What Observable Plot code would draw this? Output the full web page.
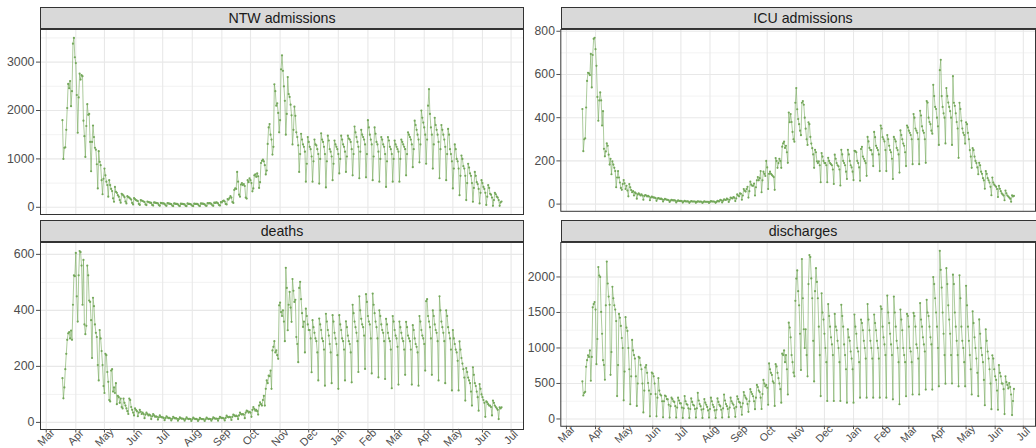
<!DOCTYPE html>
<html><head><meta charset="utf-8">
<script src="https://cdn.jsdelivr.net/npm/d3@7"></script>
<script src="https://cdn.jsdelivr.net/npm/@observablehq/plot@0.6"></script>
<style>
html,body{margin:0;padding:0;background:#fff;overflow:hidden;width:1036px;height:448px;}
#chart{position:relative;width:1036px;height:448px;overflow:hidden;font-family:"Liberation Sans",Arial,sans-serif;}
.strip{position:absolute;box-sizing:border-box;background:#d9d9d9;border:1px solid #333;color:#1a1a1a;font-size:14.2px;text-align:center;line-height:20px;height:22px;}
.panel{position:absolute;}
</style></head><body><div id="chart"></div>
<script>
// first day of all series (daily values)
const startDate = "2020-03-18";
const panelTitles = ["NTW admissions", "ICU admissions", "deaths", "discharges"];

const ntwAdmissions = [
1800,1000,1230,1240,1600,2050,2550,
2460,2610,2090,2400,3380,3500,3100,
2980,2320,1540,2270,2760,2640,2730,
2710,1790,1470,1040,1680,2130,1910,
1930,1350,745,1350,1690,1450,1230,
1190,890,390,1160,940,870,560,
270,590,800,660,530,460,220,
560,460,380,335,185,115,420,
320,300,250,220,150,95,280,
260,240,210,120,80,230,210,
200,180,160,90,60,190,170,
150,140,130,70,50,150,140,
130,120,110,60,45,120,110,
100,95,90,50,35,100,95,
90,85,80,45,30,90,85,
80,80,70,40,30,85,80,
75,70,65,35,25,80,75,
70,70,60,35,25,75,70,
70,65,60,30,25,80,70,
70,65,55,30,25,75,70,
70,70,60,35,25,80,75,
75,70,60,35,30,85,80,
85,80,70,40,30,95,90,
100,95,80,45,35,110,100,
130,140,120,70,60,170,160,
190,230,200,110,90,360,390,
380,730,530,260,220,470,500,
460,480,440,200,180,560,520,
600,560,500,330,390,660,680,
630,700,640,400,520,915,960,
985,950,870,680,760,1310,1650,
1720,1500,1400,1090,1250,2540,2400,
2100,2150,1950,1550,1800,2850,3140,
2820,2500,2200,1500,1930,2690,2340,
2280,2120,1900,1300,1600,2080,1890,
1550,1450,1280,730,1100,1520,1400,
1300,1250,1150,530,900,1450,1350,
1250,1200,1050,530,950,1400,1300,
1280,1200,1100,490,1000,1530,1400,
1350,1250,1100,410,950,1480,1380,
1200,1150,1050,560,900,1380,1300,
1250,1200,1100,700,1000,1480,1400,
1300,1250,1150,730,1050,1480,1420,
1400,1350,1200,660,1100,1670,1550,
1450,1350,1250,600,1150,1600,1500,
1450,1400,1300,620,1100,1800,1650,
1500,1400,1300,560,1050,1650,1520,
1350,1300,1150,530,1000,1450,1400,
1300,1250,1100,420,950,1450,1380,
1250,1200,1100,530,1000,1380,1300,
1250,1200,1150,530,1000,1400,1350,
1300,1250,1200,660,1100,1550,1500,
1450,1400,1300,830,1200,1790,1700,
1600,1500,1400,930,1300,2000,1850,
1750,1650,1500,900,1400,2100,2440,
1930,1650,1500,800,1300,1850,1700,
1600,1500,1350,600,1200,1700,1600,
1500,1400,1250,560,1100,1620,1500,
1200,1100,950,390,800,1300,1200,
1000,950,800,250,650,1070,1000,
850,800,650,150,500,900,820,
700,650,500,115,400,730,650,
520,480,380,80,300,560,500,
420,380,300,50,220,460,400,
280,260,200,30,150,300,270,
220,200,150,30,100,120
];

const icuAdmissions = [
440,245,300,305,447,570,608,
605,597,695,540,690,765,770,
717,640,496,386,480,517,480,
364,430,256,221,244,281,270,
229,183,210,138,198,183,168,
153,78,123,153,123,100,75,
66,93,111,96,70,85,63,
36,93,78,65,55,60,40,
55,50,25,45,50,45,40,
45,40,20,38,42,40,35,
38,35,18,30,35,32,30,
30,28,15,25,28,26,24,
25,22,12,20,24,22,20,
20,18,10,16,20,18,17,
18,16,8,14,17,15,14,
15,14,7,12,15,13,12,
13,12,6,11,14,12,12,
12,12,6,10,13,12,11,
12,11,5,10,13,11,11,
11,11,5,10,14,12,12,
12,11,6,10,15,13,13,
20,18,8,16,22,20,19,
25,22,10,20,30,28,26,
32,30,14,26,45,40,36,
50,48,20,40,70,62,58,
70,80,30,60,104,90,85,
85,95,40,78,110,125,110,
120,153,55,110,150,140,130,
200,170,70,140,150,140,135,
130,125,66,213,200,168,190,
210,200,168,266,281,289,260,
270,240,191,424,379,417,380,
334,300,289,469,537,439,394,
370,340,319,469,477,460,400,
349,300,274,379,370,311,280,
259,230,168,251,240,198,190,
198,180,101,236,220,200,190,
190,180,101,214,200,190,185,
180,160,93,229,210,190,180,
175,160,86,251,230,200,190,
180,150,116,251,230,200,180,
170,150,111,247,245,240,200,
190,170,108,255,265,220,210,
200,190,131,311,290,260,250,
250,230,176,334,310,270,260,
250,230,153,364,350,310,300,
290,250,153,320,300,270,250,
240,210,116,311,300,290,260,
250,230,146,341,320,300,280,
270,240,176,364,355,340,330,
320,300,185,417,400,350,340,
330,300,185,432,410,360,340,
330,300,191,477,470,400,380,
370,340,326,552,500,450,440,
400,360,274,620,668,500,450,
420,400,281,537,500,470,450,
430,400,274,592,469,455,420,
380,350,214,469,440,386,350,
330,320,280,379,370,330,300,
250,220,168,259,250,220,200,
190,170,138,191,180,150,140,
120,110,71,153,140,120,110,
100,80,41,123,100,90,85,
80,70,33,85,71,60,50,
45,40,18,63,50,40,35,
30,25,11,41,35,38
];

const deaths = [
158,86,125,190,245,295,318,
322,300,328,295,420,525,522,
605,450,360,525,612,608,560,
420,580,350,315,345,560,525,
435,430,365,230,445,415,350,
320,305,205,150,330,300,255,
205,130,105,245,240,180,145,
80,75,185,190,110,125,105,
140,65,95,90,70,85,55,
50,85,70,60,50,40,30,
85,80,55,45,35,25,50,
45,40,22,35,45,38,30,
35,30,15,28,35,30,25,
28,25,12,22,30,25,20,
22,20,10,18,25,20,18,
18,16,8,15,22,18,15,
16,14,7,13,20,16,14,
15,13,6,12,18,15,13,
14,12,6,12,18,14,12,
13,12,5,11,17,14,12,
13,11,5,10,16,13,12,
12,11,5,11,17,14,12,
13,12,6,12,18,15,13,
14,13,6,14,20,17,15,
16,14,7,16,24,20,18,
20,18,9,20,28,25,22,
24,22,12,25,35,30,28,
30,28,15,35,42,40,35,
38,35,20,45,55,48,42,
45,40,28,60,72,65,60,
80,95,60,120,150,140,167,
165,185,120,257,270,290,250,
257,240,227,418,428,394,380,
400,360,290,552,480,329,420,
466,410,359,512,470,430,438,
305,280,215,480,502,440,390,
341,360,250,406,380,350,330,
330,300,179,365,340,320,300,
290,250,150,371,350,330,300,
290,260,131,388,360,330,310,
280,250,140,383,360,320,300,
280,240,120,383,350,330,300,
290,260,150,361,340,310,290,
280,250,143,420,390,360,340,
320,290,180,450,400,370,350,
340,310,191,458,430,380,360,
350,300,175,460,420,390,360,
340,300,161,400,380,350,330,
320,290,155,370,350,320,300,
290,260,122,380,360,330,310,
300,270,135,360,340,320,300,
290,260,170,359,340,310,300,
290,260,135,347,330,300,280,
270,250,131,380,360,330,310,
300,280,185,433,440,380,360,
340,300,170,400,380,350,330,
320,290,150,450,400,360,340,
320,290,140,400,380,340,320,
300,260,114,330,300,280,260,
250,220,114,289,260,230,210,
190,160,78,194,180,160,150,
140,110,60,197,170,140,130,
110,90,42,137,120,100,90,
80,70,20,75,72,65,60,
60,55,25,78,70,60,55,
50,45,12,54,50,54
];

const discharges = [
529,331,368,382,736,828,897,
874,966,538,874,1572,1618,1646,
1540,772,1126,2140,2020,2000,1508,
1200,828,760,552,1600,2216,1908,
1724,1609,621,943,1862,1700,1600,
1540,1379,322,759,1480,1425,1310,
1140,1000,262,667,1434,1287,1240,
1000,700,207,600,1113,966,900,
850,600,184,500,874,860,759,
700,500,92,400,726,759,650,
506,400,37,350,653,640,600,
500,350,37,300,575,400,345,
330,250,23,250,331,320,280,
276,200,20,180,300,280,250,
240,180,20,160,300,260,220,
220,160,15,150,322,250,210,
200,150,15,140,290,240,200,
190,140,20,150,368,260,210,
180,130,15,140,280,230,200,
170,120,20,140,300,250,200,
170,120,15,130,290,240,200,
180,130,20,150,345,260,210,
180,140,25,160,300,250,220,
200,150,30,170,320,280,240,
230,170,60,220,380,330,300,
280,210,100,250,420,380,350,
320,250,138,300,480,450,400,
380,300,140,350,550,500,460,
480,440,200,782,700,650,620,
529,506,184,772,740,650,575,
500,420,230,920,900,966,800,
900,700,345,1356,1287,1150,900,
800,653,600,1664,1977,2092,1800,
1600,1200,690,2253,1700,1264,1000,
1264,900,600,1900,2308,2280,1980,
1700,1100,529,1800,2124,1930,1700,
1300,900,322,1770,1500,1400,1200,
1000,800,253,1618,1450,1300,1150,
1050,900,253,1480,1300,1250,1100,
1000,800,253,1609,1450,1300,1050,
900,700,230,1264,1150,1100,950,
850,700,230,1471,1300,1200,1000,
950,800,300,1400,1350,1250,1100,
1000,850,300,1618,1400,1250,1100,
1000,850,300,1471,1350,1250,1100,
1000,850,300,1586,1550,1300,1150,
1050,900,300,1738,1500,1350,1200,
1050,900,276,1724,1500,1300,1100,
1000,800,207,1540,1400,1250,1000,
900,800,320,1480,1450,1300,1000,
950,800,345,1494,1450,1300,1050,
1000,850,345,1632,1400,1300,1150,
1050,950,414,1678,1500,1450,1300,
1150,1050,414,2000,1900,1700,1500,
1300,1000,460,2368,2100,1850,1500,
1200,900,497,2124,1900,1600,1400,
1200,900,500,2032,1900,1500,1300,
1100,900,460,2023,1700,1300,1100,
1000,800,460,1876,1600,1300,1100,
900,700,345,1517,1350,1150,1000,
850,650,322,1402,1200,1000,900,
800,550,193,1264,1100,950,850,
700,500,138,897,850,700,600,
550,400,130,759,650,600,500,
500,420,69,600,520,480,430,
506,450,345,55,253,423
];

// axis ticks
const ntwTicks = [0, 1000, 2000, 3000];
const ntwMinor = [500, 1500, 2500, 3500];
const icuTicks = [0, 200, 400, 600, 800];
const icuMinor = [100, 300, 500, 700];
const deathTicks = [0, 200, 400, 600];
const deathMinor = [100, 300, 500];
const dischargeTicks = [0, 500, 1000, 1500, 2000];
const dischargeMinor = [250, 750, 1250, 1750, 2250];
const monthTicks = d3.utcMonth.range(new Date("2020-03-01"), new Date("2021-07-02"));

const green = "#74a85a";
const chart = document.getElementById("chart");

function addStrip(text, left, top) {
  const s = document.createElement("div");
  s.className = "strip";
  s.style.left = left + "px";
  s.style.top = top + "px";
  s.style.width = "484px";
  s.textContent = text;
  chart.appendChild(s);
}

function addPanel(cfg) {
  const t0 = Date.parse(startDate);
  const data = cfg.values.map((v, i) => ({date: new Date(t0 + i * 86400000), value: v}));
  const [d0, d1] = d3.extent(data, d => d.date);
  const xpad = (d1 - d0) * 0.05;
  const [v0, v1] = d3.extent(cfg.values);
  const ypad = (v1 - v0) * 0.05;
  const marks = [
    Plot.ruleY(cfg.minor, {stroke: "#ededed", strokeWidth: 0.7}),
    Plot.ruleY(cfg.major, {stroke: "#e8e8e8", strokeWidth: 1.1}),
    Plot.ruleX(monthTicks, {stroke: "#e8e8e8", strokeWidth: 1.1}),
    Plot.line(data, {x: "date", y: "value", stroke: green, strokeOpacity: 0.6, strokeWidth: 1}),
    Plot.dot(data, {x: "date", y: "value", r: 1.1, fill: green, stroke: "none"}),
    Plot.frame({stroke: "#333333"}),
    Plot.axisY(cfg.major, {tickSize: 4, tickPadding: 2, tickFormat: d => String(d), label: null})
  ];
  if (cfg.xAxis) {
    marks.push(Plot.axisX(monthTicks, {tickFormat: d3.utcFormat("%b"), tickRotate: -45, textAnchor: "middle", lineAnchor: "middle", tickSize: 3.5, tickPadding: 4.5, fontSize: 11, label: null}));
  }
  const svg = Plot.plot({
    width: 524,
    height: cfg.height,
    marginLeft: 40,
    marginRight: 1,
    marginTop: 1,
    marginBottom: cfg.marginBottom,
    x: {type: "utc", domain: [new Date(+d0 - xpad), new Date(+d1 + xpad)], axis: cfg.xAxis ? undefined : null},
    y: {domain: [v0 - ypad, v1 + ypad]},
    style: {fontFamily: '"Liberation Sans", Arial, sans-serif', fontSize: "12.4px", color: "#4d4d4d", background: "transparent", overflow: "visible"},
    marks
  });
  const wrap = document.createElement("div");
  wrap.className = "panel";
  wrap.style.left = cfg.left + "px";
  wrap.style.top = cfg.top + "px";
  wrap.appendChild(svg);
  chart.appendChild(wrap);
}

addPanel({values: ntwAdmissions, major: ntwTicks, minor: ntwMinor, left: 0, top: 28, height: 187, marginBottom: 1, xAxis: false});
addPanel({values: icuAdmissions, major: icuTicks, minor: icuMinor, left: 521, top: 28, height: 187, marginBottom: 1, xAxis: false});
addPanel({values: deaths, major: deathTicks, minor: deathMinor, left: 0, top: 241, height: 207, marginBottom: 19, xAxis: true});
addPanel({values: discharges, major: dischargeTicks, minor: dischargeMinor, left: 521, top: 241, height: 207, marginBottom: 19, xAxis: true});

addStrip(panelTitles[0], 40, 7);
addStrip(panelTitles[1], 561, 7);
addStrip(panelTitles[2], 40, 220);
addStrip(panelTitles[3], 561, 220);
</script>
</body></html>
